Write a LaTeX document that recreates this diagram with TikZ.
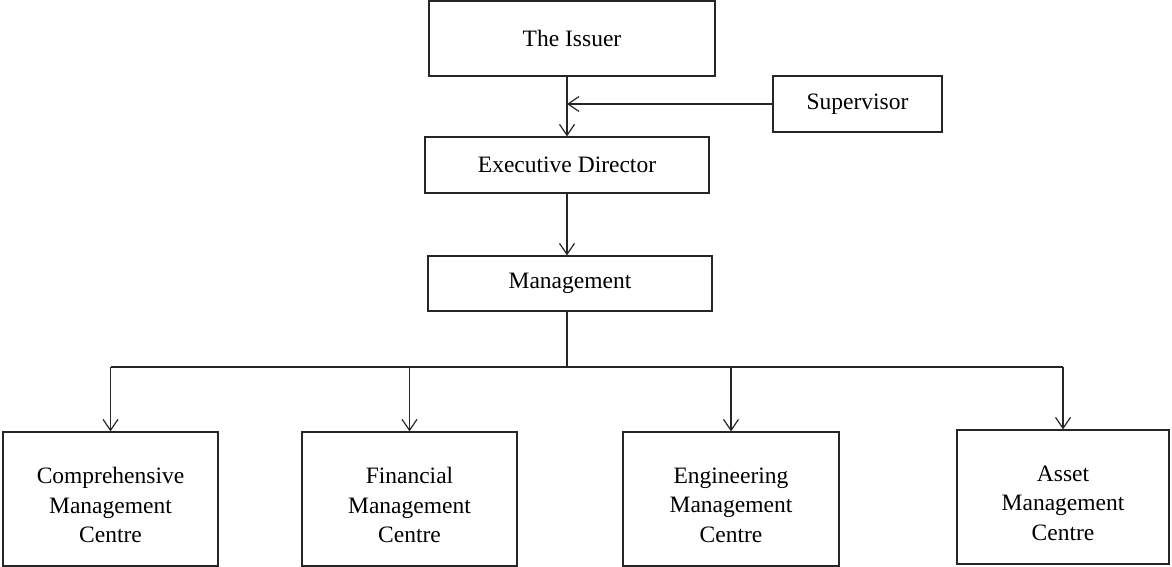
\documentclass[tikz,border=0pt]{standalone}
\usepackage{fontspec}
\setmainfont{Liberation Serif}
\usetikzlibrary{arrows.meta}
\begin{document}
\begin{tikzpicture}[x=1pt,y=-1pt,
  box/.style={draw=black!85, line width=1.2pt, rectangle, inner sep=0pt, anchor=center,
    font=\fontsize{23.5}{29.5}\selectfont, align=center},
  conn/.style={draw=black!85, line width=1.2pt},
  arr/.style={conn, -{Straight Barb[length=11pt,width=15pt,line width=1.2pt]}}]
\useasboundingbox (0,0) rectangle (1172,567);
\node[box, minimum width=286pt, minimum height=75pt] (issuer) at (572,38.5) {The Issuer};
\node[box, minimum width=169pt, minimum height=56pt] (sup) at (857.5,104) {Supervisor};
\node[box, minimum width=284pt, minimum height=56pt] (exec) at (567,165) {Executive Director};
\node[box, minimum width=284pt, minimum height=55pt] (mgmt) at (570,283.5) {Management};
\node[box, minimum width=215pt, minimum height=134pt] (comp) at (110.5,499) {};
\node[box, minimum width=215pt, minimum height=134pt] (fin) at (409.5,499) {};
\node[box, minimum width=216pt, minimum height=134pt] (eng) at (731,499) {};
\node[box, minimum width=212pt, minimum height=134pt] (asset) at (1063,497) {};
\node[box, draw=none] (compt) at ([yshift=-6pt]comp.center) {Comprehensive\\Management\\Centre};
\node[box, draw=none] (fint) at ([yshift=-6pt]fin.center) {Financial\\Management\\Centre};
\node[box, draw=none] (engt) at ([yshift=-6pt]eng.center) {Engineering\\Management\\Centre};
\node[box, draw=none] (assett) at ([yshift=-6pt]asset.center) {Asset\\Management\\Centre};
\coordinate (bus) at (567,367);
\draw[arr] (exec.north |- issuer.south) -- (exec.north);
\draw[arr] (sup.west) -- (sup.west -| exec.north);
\draw[arr] (exec.south) -- (exec.south |- mgmt.north);
\draw[conn] (bus |- mgmt.south) -- (bus);
\draw[conn] (comp.north |- bus) -- (asset.north |- bus);
\foreach \n in {comp,fin,eng,asset} \draw[arr] (\n.north |- bus) -- (\n.north);
\end{tikzpicture}
\end{document}
